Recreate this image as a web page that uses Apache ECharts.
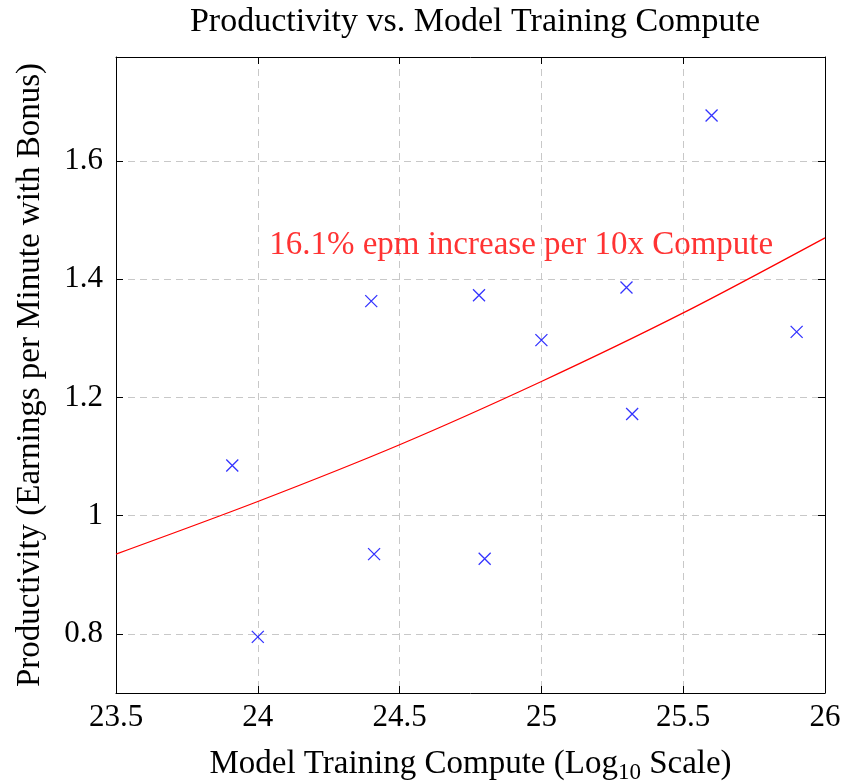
<!DOCTYPE html>
<html>
<head>
<meta charset="utf-8">
<script src="https://cdn.jsdelivr.net/npm/echarts@6/dist/echarts.min.js"></script>
<style>
  html, body { margin: 0; padding: 0; background: #fff; }
  #chart { width: 844px; height: 782px; }
</style>
</head>
<body>
<div id="chart"></div>
<script>
// measured points (log10 compute, earnings per minute)
const computeLog = [23.91, 24.0, 24.4, 24.41, 24.78, 24.8, 25.0, 25.3, 25.32, 25.6, 25.9]
const productivity = [1.085, 0.795, 1.363, 0.935, 1.373, 0.927, 1.297, 1.386, 1.172, 1.677, 1.311]
// fitted curve
const fitX = [23.5, 24, 24.5, 25, 25.5, 26]
const fitY = [0.935, 1.024, 1.12, 1.227, 1.343, 1.47]
const yTicks = [0.8, 1, 1.2, 1.4, 1.6]
const noteText = '16.1% epm increase per 10x Compute'
const notePos = [24.04, 1.457]

const serif = 'Liberation Serif'
const chart = echarts.init(document.getElementById('chart'))

const tickStyle = { show: true, inside: true, length: 7, lineStyle: { color: '#000', width: 1 } }

chart.setOption({
  animation: false,
  title: {
    text: 'Productivity vs. Model Training Compute',
    left: 470, top: 0, textAlign: 'center',
    textStyle: { fontFamily: serif, fontWeight: 'normal', fontSize: 34, color: '#000' }
  },
  grid: { left: 116, right: 19, top: 57, bottom: 89, outerBoundsMode: 'none', containLabel: false },
  xAxis: [
    {
      type: 'value', min: 23.5, max: 26, interval: 0.5,
      name: 'Model Training Compute (Log{sub|10} Scale)',
      nameLocation: 'middle', nameGap: 52,
      nameTextStyle: {
        fontFamily: serif, fontSize: 33, color: '#000',
        rich: { sub: { fontFamily: serif, fontSize: 23, color: '#000', verticalAlign: 'bottom', padding: [16, 0, 0, 0] } }
      },
      axisLine: { lineStyle: { color: '#000', width: 1 } },
      axisTick: tickStyle,
      axisLabel: { fontFamily: serif, fontSize: 31, color: '#000', margin: 9 },
      splitLine: { show: true, lineStyle: { color: '#c8c8c8', type: [7, 5], width: 1 } }
    },
    {
      type: 'value', position: 'top', min: 23.5, max: 26, interval: 0.5,
      axisLine: { show: true, lineStyle: { color: '#000', width: 1 } },
      axisTick: tickStyle, axisLabel: { show: false }, splitLine: { show: false }
    }
  ],
  yAxis: [
    {
      type: 'value', min: 0.7, max: 1.776,
      name: 'Productivity (Earnings per Minute with Bonus)',
      nameLocation: 'middle', nameGap: 69,
      nameTextStyle: { fontFamily: serif, fontSize: 33, color: '#000' },
      axisLine: { show: true, lineStyle: { color: '#000', width: 1 } },
      axisTick: Object.assign({ customValues: yTicks }, tickStyle),
      axisLabel: { customValues: yTicks, fontFamily: serif, fontSize: 31, color: '#000', margin: 13 },
      splitLine: { show: true, lineStyle: { color: '#c8c8c8', type: [7, 5], width: 1 } }
    },
    {
      type: 'value', position: 'right', min: 0.7, max: 1.776,
      axisLine: { show: true, lineStyle: { color: '#000', width: 1 } },
      axisTick: Object.assign({ customValues: yTicks }, tickStyle),
      axisLabel: { show: false }, splitLine: { show: false }
    }
  ],
  series: [
    {
      type: 'line',
      data: fitX.map((x, i) => [x, fitY[i]]),
      smooth: 0.3, showSymbol: false, symbol: 'none',
      lineStyle: { color: '#ff0000', width: 1.3 },
      z: 3
    },
    {
      type: 'scatter',
      data: computeLog.map((x, i) => [x, productivity[i]]),
      symbol: 'path://M0,0L10,10M10,0L0,10',
      symbolSize: 12,
      itemStyle: { color: 'rgba(0,0,0,0)', borderColor: '#0000ff', borderWidth: 1.3 },
      z: 4
    },
    {
      type: 'scatter',
      data: [notePos],
      symbolSize: 0,
      label: {
        show: true, position: 'right', distance: 0,
        formatter: noteText,
        fontFamily: serif, fontSize: 33, color: '#ff0000'
      },
      z: 5
    }
  ]
})
</script>
</body>
</html>
